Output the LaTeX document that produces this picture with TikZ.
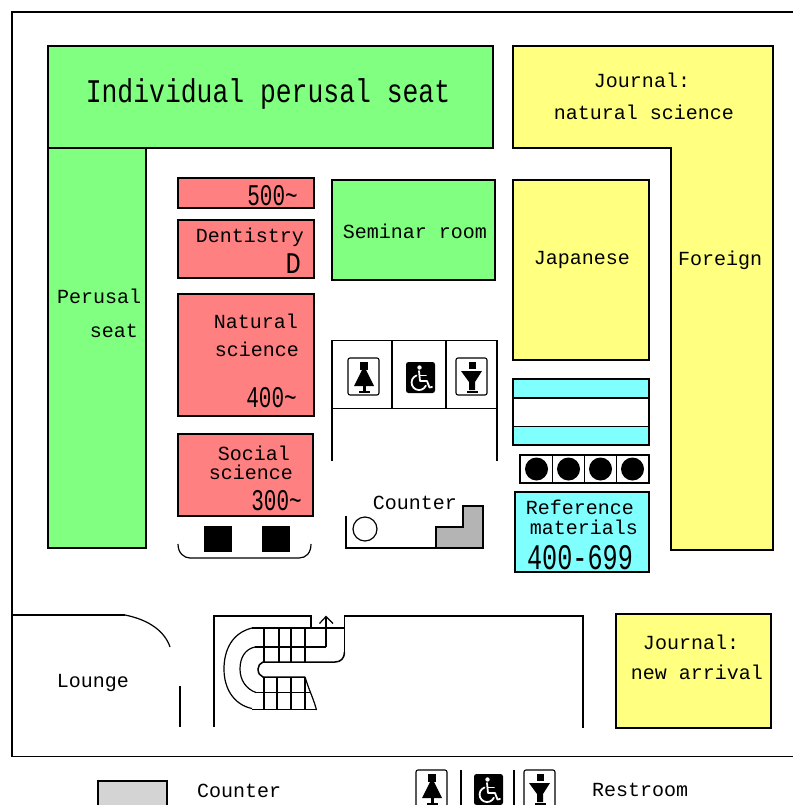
\documentclass[tikz,border=0pt]{standalone}
\usepackage{fontspec}
\setmainfont{Liberation Mono}
\newfontfamily\tallfont[FakeStretch=0.7]{Liberation Mono}
\newfontfamily\wordfont[FakeStretch=0.8]{Liberation Mono}
\newfontfamily\midfont[FakeStretch=0.85]{Liberation Mono}
\definecolor{rgreen}{HTML}{80FF80}
\definecolor{ryellow}{HTML}{FFFF80}
\definecolor{rred}{HTML}{FF8080}
\definecolor{rcyan}{HTML}{80FFFF}
\definecolor{rgrey}{HTML}{B4B4B4}
\definecolor{lgrey}{HTML}{D4D4D4}
\tikzset{
  wall/.style={draw=black,line width=1.5bp},
  thin wall/.style={draw=black,line width=1.2bp},
  greenroom/.style={wall,fill=rgreen},
  yellowroom/.style={wall,fill=ryellow},
  redroom/.style={wall,fill=rred},
  cyanroom/.style={wall,fill=rcyan},
  lab/.style={inner sep=0pt,align=center,yshift=-1bp,font=\fontsize{20bp}{24bp}\selectfont},
  callno/.style={lab,anchor=east,font=\fontsize{30bp}{32bp}\tallfont},
  iconline/.style={draw=black,line width=1.1bp,rounded corners=2bp},
  person/.style={fill=black,draw=none},
  wheel/.style={draw=white,line width=1.8bp,line cap=round,line join=round}
}
% woman icon: top-left corner of its frame
\newcommand{\womanicon}[2]{\begin{scope}[shift={(#1,#2)}]
  \draw[iconline,fill=white] (0,0) rectangle (31,37);
  \fill[person] (12,3.5) rectangle (20,12);
  \fill[person] (14.5,11) -- (17.5,11) -- (26,28) -- (6,28) -- cycle;
  \fill[person] (14.5,28) rectangle (17.5,33);
  \fill[person] (10.5,32.5) rectangle (21.5,34.5);
\end{scope}}
\newcommand{\manicon}[2]{\begin{scope}[shift={(#1,#2)}]
  \draw[iconline,fill=white] (0,0) rectangle (31,37);
  \fill[person] (12.5,3.5) rectangle (20,11);
  \fill[person] (5,13) -- (26,13) -- (19,24) -- (19,32) -- (13,32) -- (13,24) -- cycle;
  \fill[person] (10.5,32.5) rectangle (21.5,34.5);
\end{scope}}
\newcommand{\chairicon}[2]{\begin{scope}[shift={(#1,#2)}]
  \fill[black,rounded corners=2.5bp] (0,0) rectangle (29,31);
  \fill[white] (13.5,5.5) circle (2.2);
  \draw[wheel] (13,9) -- (14,19) -- (21,19) -- (23.5,25.5) -- (26,25);
  \draw[wheel] (14,13.5) -- (20,13.5);
  \draw[wheel] (10.5,13.5) arc[start angle=250,end angle=25,radius=7.5];
\end{scope}}
\begin{document}
\begin{tikzpicture}[x=1bp,y=-1bp]
\useasboundingbox (0,0) rectangle (793,805);
\clip (0,0) rectangle (793,805);
\fill[white] (0,0) rectangle (793,805);
% outer frame
\draw[wall] (793,12) -- (12,12) -- (12,756.5) -- (793,756.5);
% perusal seats
\draw[greenroom] (48,46) -- (493,46) -- (493,148) -- (146,148) -- (146,548) -- (48,548) -- cycle;
\draw[wall] (48,148) -- (146,148);
\node[lab,anchor=center,font=\fontsize{33bp}{36bp}\wordfont] (indiv) at (268,93) {Individual perusal seat};
\node[lab,anchor=west] (perusal) at (57,295) {Perusal};
\node[lab,anchor=east] (seat) at (138,330) {seat};
% journals
\draw[yellowroom] (513,46) -- (773,46) -- (773,550) -- (671,550) -- (671,148) -- (513,148) -- cycle;
\node[lab] (jn1) at (642,79) {Journal:};
\node[lab] (jn2) at (644,111) {natural science};
\node[lab] (foreign) at (720,259) {Foreign};
\draw[yellowroom] (513,180) rectangle (649,360);
\node[lab] (japanese) at (582,259) {Japanese};
% seminar
\draw[greenroom] (332,180) rectangle (495,280);
\node[lab] (seminar) at (415,230) {Seminar room};
% red shelves
\draw[redroom] (178,178) rectangle (314,208);
\node[callno] (n500) at (298,195) {500\textasciitilde};
\draw[redroom] (178,220) rectangle (314,278);
\node[lab] (dent) at (250,236) {Dentistry};
\node[lab,anchor=east,font=\fontsize{30bp}{32bp}\midfont] (dentd) at (301,263) {D};
\draw[redroom] (178,294) rectangle (314,416);
\node[lab] (nat1) at (256,320) {Natural};
\node[lab] (nat2) at (257,348) {science};
\node[callno] (n400) at (297,397) {400\textasciitilde};
\draw[redroom] (178,434) rectangle (313,516);
\node[lab] (soc1) at (254,452) {Social};
\node[lab] (soc2) at (251,471) {science};
\node[callno] (n300) at (302,500) {300\textasciitilde};
% seats under social science
\fill[black] (204,526) rectangle (232,552);
\fill[black] (262,526) rectangle (290,552);
\draw[thin wall] (178,544) .. controls (178,553) and (184,558) .. (190,558) -- (299,558) .. controls (306,558) and (311,553) .. (311,544);
% restrooms
\draw[wall] (332,461) -- (332,340.5) -- (497,340.5) -- (497,461);
\draw[wall] (332,408.5) -- (497,408.5);
\draw[wall] (392,340.5) -- (392,408.5);
\draw[wall] (446,340.5) -- (446,408.5);
\womanicon{348}{358}
\chairicon{406}{362}
\manicon{456}{358}
% counter
\node[lab] (counter) at (415,502) {Counter};
\draw[wall] (346,516) -- (346,548) -- (483,548);
\draw[wall,fill=rgrey] (436,548) -- (436,527) -- (463,527) -- (463,506) -- (483,506) -- (483,548) -- cycle;
\draw[thin wall] (365,529) circle (12);
% cyan shelves
\draw[cyanroom] (513,379) rectangle (649,445);
\draw[wall,fill=white] (513,398) rectangle (649,426.5);
% machines
\draw[wall,fill=white] (520,455) rectangle (649,483);
\draw[wall] (552.5,455) -- (552.5,483);
\draw[wall] (584.5,455) -- (584.5,483);
\draw[wall] (616.5,455) -- (616.5,483);
\fill[black] (536.5,469) circle (11.5);
\fill[black] (568.5,469) circle (11.5);
\fill[black] (600.5,469) circle (11.5);
\fill[black] (632.5,469) circle (11.5);
% reference
\draw[cyanroom] (515,492) rectangle (649,572);
\node[lab] (ref1) at (580,506) {Reference};
\node[lab] (ref2) at (584,526) {materials};
\node[lab,font=\fontsize{36bp}{38bp}\tallfont] (ref3) at (580,557) {400-699};
% journal new arrival
\draw[yellowroom] (616,614) rectangle (771,728);
\node[lab] (na1) at (691,641) {Journal:};
\node[lab] (na2) at (697,671) {new arrival};
% lounge
\draw[wall] (12,615) -- (125,615);
\draw[thin wall] (125,615) .. controls (150,620) and (165,632) .. (170,647);
\draw[wall] (180,686) -- (180,727);
\node[lab] (lounge) at (93,682) {Lounge};
% stair hall
\draw[wall] (214,727) -- (214,616) -- (311,616) -- (311,628);
\draw[wall] (344.5,652) -- (344.5,616) -- (583,616) -- (583,728);
\draw[wall] (344.5,628) -- (252,628);
\draw[thin wall] (252,628) .. controls (232,633) and (224,650) .. (224,669) .. controls (224,690) and (235,705) .. (252,708.5);
\draw[wall] (252,709.5) -- (316,709.5);
\draw[wall] (326,647) -- (255,647);
\draw[thin wall] (255,647) .. controls (245,649) and (240,658) .. (240,669) .. controls (240,680) and (246,689) .. (256,692.5);
\draw[wall] (256,692.5) -- (310,692.5);
\draw[wall] (344.5,652) .. controls (344.5,658) and (341,662) .. (335,662) -- (263,662) .. controls (260,663) and (258,666) .. (258,669) .. controls (258,673) and (260,676) .. (263,677) -- (305,677);
\draw[thin wall] (305,677) .. controls (309,690) and (314,700) .. (316.5,710);
\foreach \sx in {264,279,291,305} \draw[wall] (\sx,628) -- (\sx,662);
\foreach \sx in {264,277,291,305} \draw[wall] (\sx,677) -- (\sx,710);
\draw[wall] (326,647) -- (326,616.5);
\draw[thin wall] (319.5,623.5) -- (326,616.5) -- (333,623.5);
% legend
\draw[wall,fill=lgrey] (98,781) rectangle (167,815);
\node[lab,anchor=west] (lcounter) at (197,790) {Counter};
\womanicon{416}{770}
\draw[wall] (461,770) -- (461,805);
\chairicon{474}{774}
\draw[wall] (514,770) -- (514,805);
\manicon{524}{770}
\node[lab,anchor=west] (lrest) at (592,789) {Restroom};
\end{tikzpicture}
\end{document}
